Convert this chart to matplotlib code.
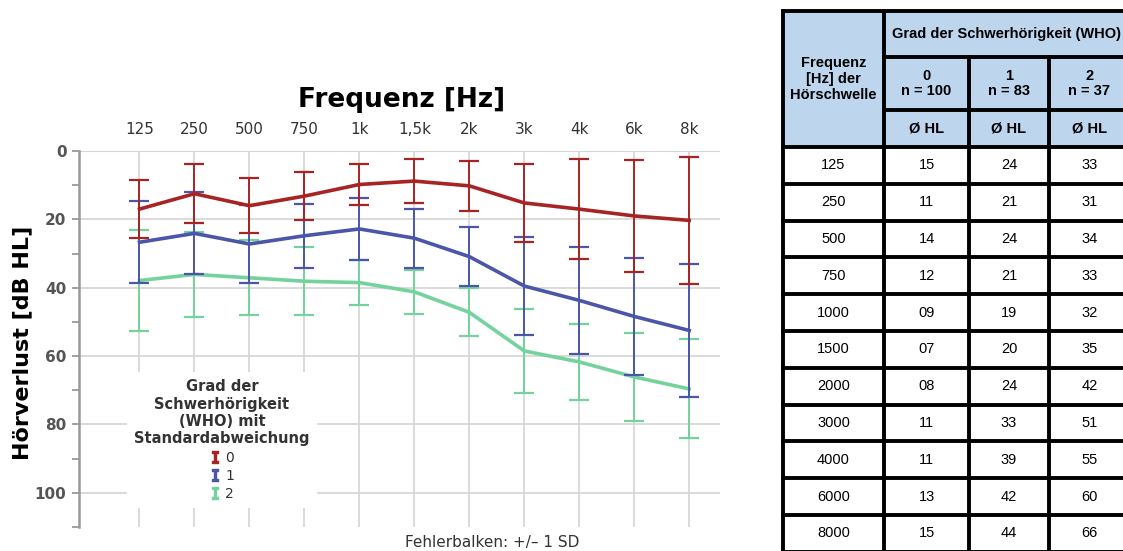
import numpy as np
import matplotlib
matplotlib.use("Agg")
import matplotlib.pyplot as plt
from matplotlib.lines import Line2D
from matplotlib.patches import Rectangle

# .----------------------------------------------------------------------------.
# Data (mean hearing loss and +/- 1 SD per WHO grade).

freq_labels = ["125", "250", "500", "750", "1k", "1,5k", "2k", "3k", "4k", "6k", "8k"]

mean_g0 = [17.0, 12.5, 16.0, 13.2, 9.8, 8.8, 10.2, 15.2, 17.0, 19.0, 20.3]
sd_g0   = [8.5, 8.6, 8.0, 7.0, 6.0, 6.4, 7.3, 11.3, 14.7, 16.5, 18.6]

mean_g1 = [26.7, 24.1, 27.2, 24.8, 22.8, 25.5, 30.9, 39.5, 43.7, 48.4, 52.5]
sd_g1   = [12.0, 12.0, 11.3, 9.4, 9.0, 8.6, 8.6, 14.2, 15.7, 17.0, 19.5]

mean_g2 = [37.9, 36.1, 37.1, 38.1, 38.5, 41.2, 47.2, 58.5, 61.7, 66.1, 69.6]
sd_g2   = [14.7, 12.5, 11.0, 10.0, 6.6, 6.5, 7.0, 12.2, 11.0, 13.0, 14.5]

grade_labels = ["0", "1", "2"]
grade_colors = ["#a82424", "#4b56a8", "#74d29c"]

# Table values (right side)
tab_freq = ["125", "250", "500", "750", "1000", "1500", "2000", "3000", "4000", "6000", "8000"]
tab_hl0  = ["15", "11", "14", "12", "09", "07", "08", "11", "11", "13", "15"]
tab_hl1  = ["24", "21", "24", "21", "19", "20", "24", "33", "39", "42", "44"]
tab_hl2  = ["33", "31", "34", "33", "32", "35", "42", "51", "55", "60", "66"]
tab_n    = [100, 83, 37]

# .----------------------------------------------------------------------------.

W, H = 1123, 551
fig = plt.figure(figsize=(W / 100, H / 100), dpi=100)

# ------------------------------- AUDIOGRAM ----------------------------------#
ax = fig.add_axes([79 / W, 1 - 527 / H, (720 - 79) / W, (527 - 151) / H])
x = np.arange(len(freq_labels))

means = [mean_g2, mean_g1, mean_g0]
sds = [sd_g2, sd_g1, sd_g0]
cols = grade_colors[::-1]
for k in range(3):
    ax.errorbar(x, means[k], yerr=sds[k], color=cols[k], lw=2.6,
                elinewidth=1.4, capsize=7, capthick=1.6, zorder=3 + k)

ax.set_xlim(-1.1, 10.56)
ax.set_ylim(110, 0)
ax.set_xticks(x)
ax.set_xticklabels(freq_labels)
ax.xaxis.tick_top()
ax.tick_params(axis="x", length=0, pad=10, labelsize=11, labelcolor="#333333")
ax.set_yticks([0, 20, 40, 60, 80, 100])
ax.set_yticks([10, 30, 50, 70, 90, 110], minor=True)
ax.tick_params(axis="y", which="both", length=5, width=1.3, color="#999999",
               labelsize=11, labelcolor="#555555", pad=4)
for lab in ax.get_yticklabels():
    lab.set_fontweight("bold")

ax.grid(True, color="#d4d4d4", lw=1.2)
ax.set_axisbelow(True)
for s in ["top", "right", "bottom"]:
    ax.spines[s].set_visible(False)
ax.spines["left"].set_color("#999999")
ax.spines["left"].set_linewidth(1.8)
ax.axhline(0, color="#d4d4d4", lw=1.5, zorder=0)

fig.text(402 / W, 1 - 100 / H, "Frequenz [Hz]", ha="center", va="center",
         fontsize=19, fontweight="bold")
fig.text(22 / W, 1 - 343 / H, "Hörverlust [dB HL]", ha="center", va="center",
         rotation=90, fontsize=16, fontweight="bold")
fig.text(405 / W, 1 - 542 / H, "Fehlerbalken: +/– 1 SD", ha="left", va="center",
         fontsize=11, color="#333333")

handles = [Line2D([], [], color=c, marker="$\\mathtt{I}$", linestyle="none",
                  markersize=8) for c in grade_colors]
leg = ax.legend(handles, grade_labels,
                title="Grad der\nSchwerhörigkeit\n(WHO) mit\nStandardabweichung",
                loc="center", bbox_to_anchor=(222 / W, 1 - 440 / H),
                bbox_transform=fig.transFigure, frameon=True, facecolor="white",
                edgecolor="none", framealpha=1, fancybox=False,
                handlelength=0.8, handletextpad=0.3, labelspacing=0.3,
                borderpad=0.5, fontsize=10, alignment="center",
                title_fontproperties={"weight": "bold", "size": 10.5})
leg.get_title().set_color("#333333")
leg.get_title().set_multialignment("center")
for t in leg.get_texts():
    t.set_color("#333333")
leg.set_zorder(10)

# --------------------------------- TABLE ------------------------------------#
tab = fig.add_axes([0, 0, 1, 1])
tab.set_xlim(0, W)
tab.set_ylim(H, 0)
tab.axis("off")

col_edges = [783, 884, 969, 1049, 1130]
head_edges = [11, 57, 110, 147]
row_h = 36.8
n_rows = len(tab_freq)
row_edges = [head_edges[-1] + row_h * k for k in range(n_rows + 1)]
head_fill = "#bdd6ee"
lw = 2.8
fnt = {"family": "Liberation Sans", "fontsize": 10.5}

tab.add_patch(Rectangle((col_edges[0], head_edges[0]), col_edges[-1] - col_edges[0],
                        head_edges[-1] - head_edges[0], facecolor=head_fill,
                        edgecolor="none"))

def cx(i):
    return (col_edges[i] + col_edges[i + 1]) / 2

tab.text(cx(0), (head_edges[0] + head_edges[-1]) / 2, "Frequenz\n[Hz] der\nHörschwelle",
         ha="center", va="center", fontweight="bold", linespacing=1.15, **fnt)
tab.text((col_edges[1] + col_edges[-1]) / 2, (head_edges[0] + head_edges[1]) / 2,
         "Grad der Schwerhörigkeit (WHO)", ha="center", va="center",
         fontweight="bold", **fnt)
for j in range(3):
    tab.text(cx(j + 1), (head_edges[1] + head_edges[2]) / 2,
             "%s\nn = %d" % (grade_labels[j], tab_n[j]), ha="center", va="center",
             fontweight="bold", linespacing=1.15, **fnt)
    tab.text(cx(j + 1), (head_edges[2] + head_edges[3]) / 2, "Ø HL",
             ha="center", va="center", fontweight="bold", **fnt)

for r in range(n_rows):
    yc = (row_edges[r] + row_edges[r + 1]) / 2
    for j, val in enumerate([tab_freq[r], tab_hl0[r], tab_hl1[r], tab_hl2[r]]):
        tab.text(cx(j), yc, val, ha="center", va="center", **fnt)

# grid lines of the table
y_top, y_bot = head_edges[0], row_edges[-1]
for e in [col_edges[0], col_edges[1], col_edges[-1]]:
    tab.plot([e, e], [y_top, y_bot], color="black", lw=lw, solid_capstyle="projecting")
for e in col_edges[2:-1]:
    tab.plot([e, e], [head_edges[1], y_bot], color="black", lw=lw)
tab.plot([col_edges[0], col_edges[-1]], [y_top, y_top], color="black", lw=lw)
tab.plot([col_edges[1], col_edges[-1]], [head_edges[1], head_edges[1]], color="black", lw=lw)
tab.plot([col_edges[1], col_edges[-1]], [head_edges[2], head_edges[2]], color="black", lw=lw)
for e in row_edges:
    tab.plot([col_edges[0], col_edges[-1]], [e, e], color="black", lw=lw)

fig.savefig("out.png", dpi=100, facecolor="white")
